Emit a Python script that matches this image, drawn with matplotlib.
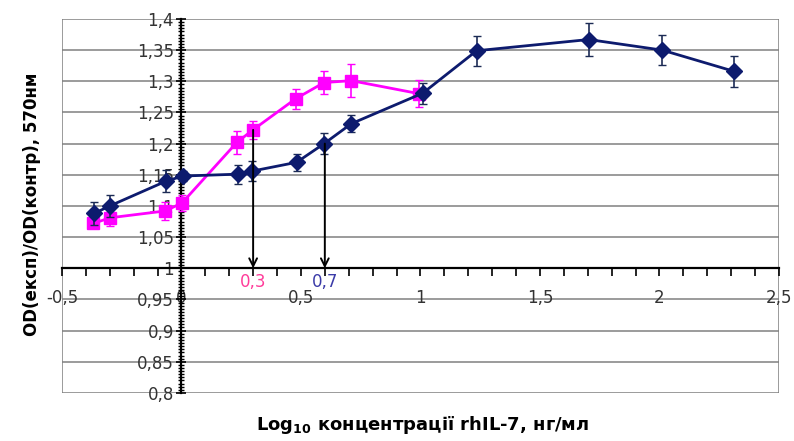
import matplotlib

matplotlib.use("Agg")
import matplotlib.pyplot as plt
from matplotlib.ticker import MultipleLocator, FuncFormatter

plt.rcParams["font.family"] = ["DejaVu Sans"]
plt.rcParams["mathtext.fontset"] = "dejavusans"
plt.rcParams["mathtext.default"] = "bf"

NAVY = "#0d1b6e"
NAVY_ERR = "#1c2b55"
MAGENTA = "#ff00ff"
GRID = "#808080"

# rhIL-7 (navy diamonds)
blue_x = [-0.365, -0.30, -0.063, 0.007, 0.236, 0.297, 0.482, 0.597, 0.711, 1.01, 1.235, 1.704, 2.012, 2.312]
blue_y = [1.088, 1.100, 1.140, 1.148, 1.151, 1.156, 1.170, 1.200, 1.232, 1.281, 1.349, 1.367, 1.350, 1.316]
blue_err = [0.018, 0.017, 0.018, 0.008, 0.015, 0.016, 0.014, 0.017, 0.014, 0.017, 0.024, 0.026, 0.024, 0.025]

# second series (magenta squares)
pink_x = [-0.368, -0.299, -0.067, 0.003, 0.232, 0.299, 0.478, 0.597, 0.711, 0.996]
pink_y = [1.072, 1.081, 1.092, 1.105, 1.202, 1.222, 1.272, 1.298, 1.301, 1.280]
pink_err = [0.008, 0.013, 0.015, 0.013, 0.019, 0.014, 0.016, 0.018, 0.026, 0.022]

# arrows down to the axis and their labels
arrow_x = [0.3, 0.6]
arrow_y = [1.222, 1.200]
arrow_labels = ["0,3", "0,7"]
arrow_label_colors = ["#ff3c9a", "#3b3ba8"]


def comma(v, pos=None):
    return "{:g}".format(round(v, 3)).replace(".", ",")


fig = plt.figure(figsize=(7.94, 4.41), dpi=100)
ax = fig.add_axes([0.078, 0.109, 0.903, 0.848])

ax.set_xlim(-0.5, 2.5)
ax.set_ylim(0.8, 1.4)

# gray plot-area box + horizontal grid
for yv in [0.8 + 0.05 * i for i in range(13)]:
    ax.axhline(yv, color=GRID, lw=1.1, zorder=0)
ax.axvline(-0.5, color=GRID, lw=1.1, zorder=0)
ax.axvline(2.5, color=GRID, lw=1.1, zorder=0)

for s in ("top", "right"):
    ax.spines[s].set_visible(False)
ax.spines["left"].set_position(("data", 0))
ax.spines["bottom"].set_position(("data", 1.0))
ax.spines["left"].set_linewidth(1.6)
ax.spines["bottom"].set_linewidth(1.6)

ax.yaxis.set_major_locator(MultipleLocator(0.05))
ax.yaxis.set_minor_locator(MultipleLocator(0.005))
ax.xaxis.set_major_locator(MultipleLocator(0.5))
ax.xaxis.set_minor_locator(MultipleLocator(0.1))
ax.yaxis.set_major_formatter(FuncFormatter(comma))
ax.xaxis.set_major_formatter(FuncFormatter(comma))
ax.tick_params(axis="y", which="major", direction="inout", length=7, width=1.2,
               labelsize=12, labelcolor="#333333", pad=2)
ax.tick_params(axis="y", which="minor", direction="inout", length=5, width=1.0)
ax.tick_params(axis="x", which="major", direction="out", length=6, width=1.2,
               labelsize=12, labelcolor="#333333", pad=9)
ax.tick_params(axis="x", which="minor", direction="out", length=6, width=1.2)

ax.errorbar(pink_x, pink_y, yerr=pink_err, color=MAGENTA, ecolor=MAGENTA,
            marker="s", markersize=9, lw=2, elinewidth=1.2, capsize=3,
            zorder=3)
ax.errorbar(blue_x, blue_y, yerr=blue_err, color=NAVY, ecolor=NAVY_ERR,
            marker="D", markersize=8, lw=2, elinewidth=1.2, capsize=3,
            zorder=4)

for xa, ya, lab, c in zip(arrow_x, arrow_y, arrow_labels, arrow_label_colors):
    ax.annotate("", xy=(xa, 1.0), xytext=(xa, ya),
                arrowprops=dict(arrowstyle="->", color="black", lw=1.4,
                                mutation_scale=14, shrinkA=0, shrinkB=0),
                zorder=5)
    ax.text(xa, 0.9785, lab, color=c, fontsize=12, ha="center", va="center")

fig.text(0.04, 0.537, "OD(експ)/OD(контр), 570нм", rotation=90,
         fontsize=12, fontweight="bold", ha="center", va="center")
fig.text(0.532, 0.036, r"Log$_{10}$ концентрації rhIL-7, нг/мл",
         fontsize=13, fontweight="bold", ha="center", va="center")

fig.savefig("out.png", dpi=100)
